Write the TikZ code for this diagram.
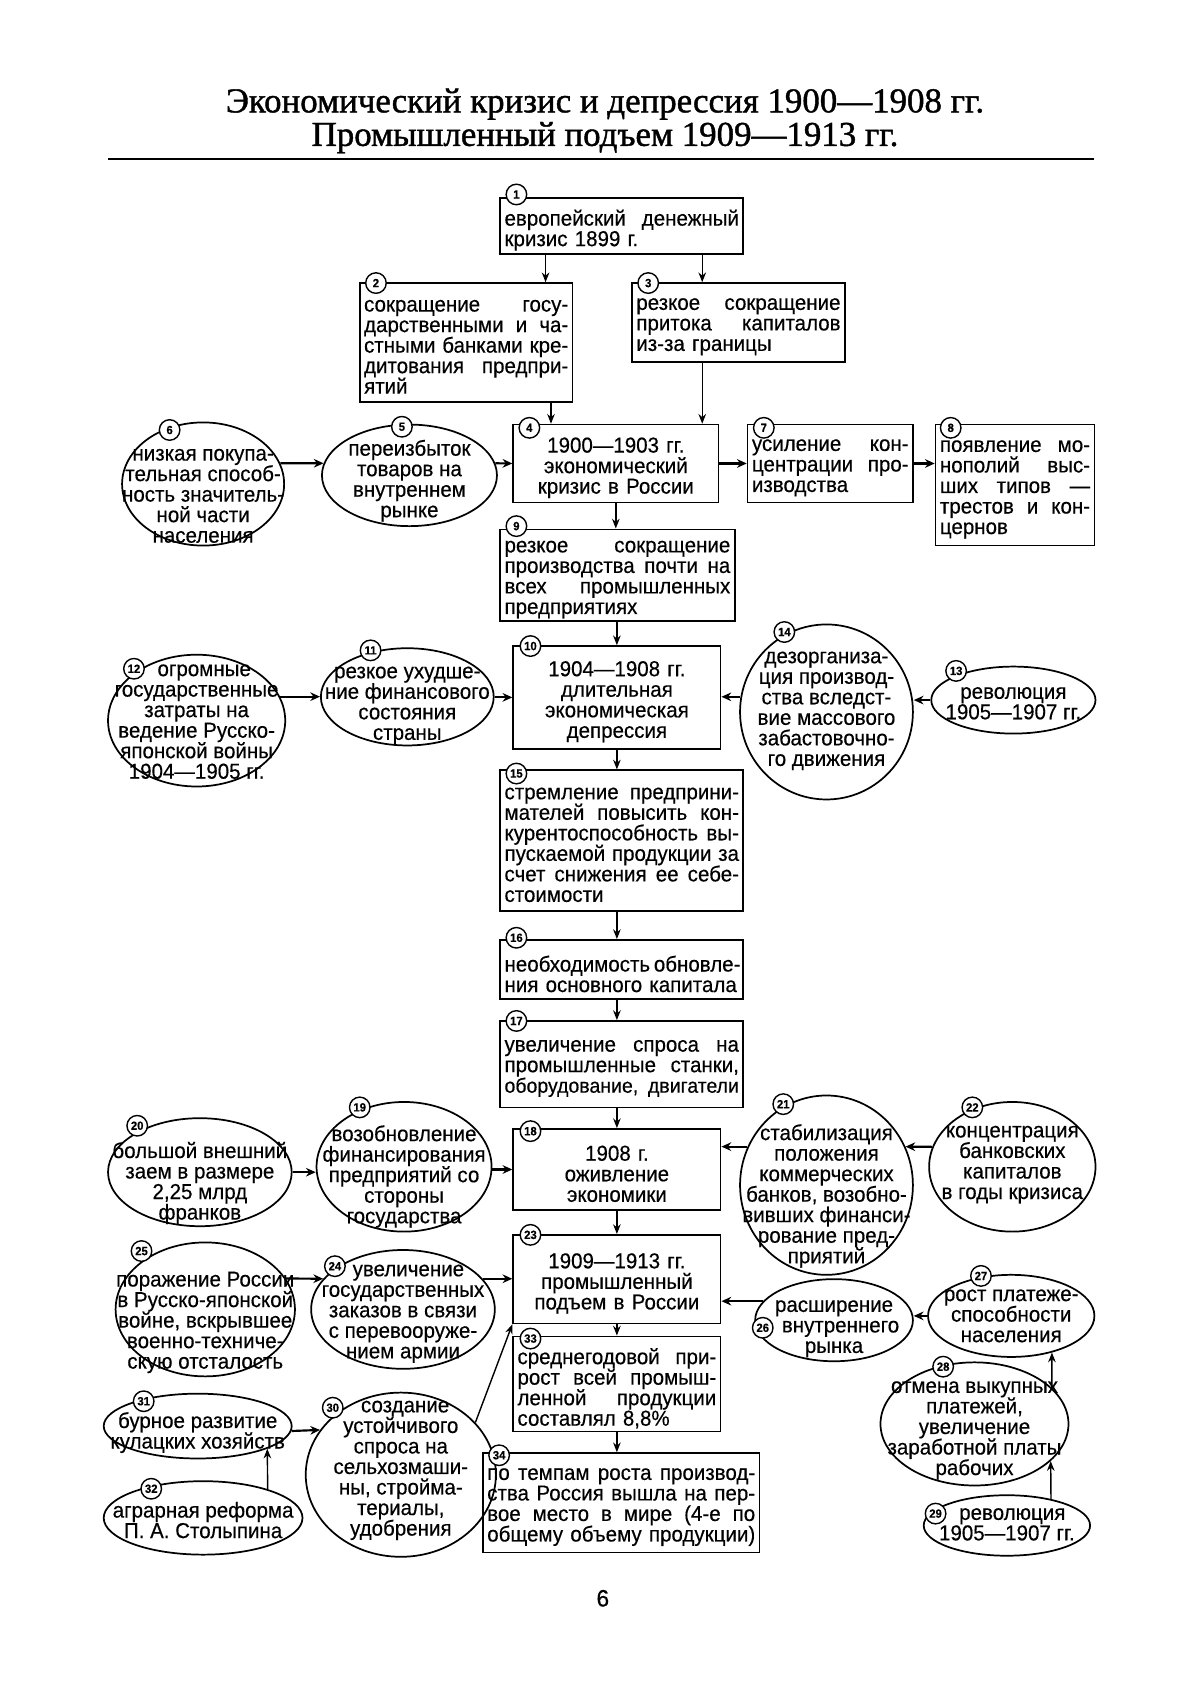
\documentclass[tikz,border=0pt]{standalone}
\usepackage{fontspec}
\setmainfont[FakeStretch=0.95,FakeBold=0.4]{Liberation Sans}
\newfontfamily\titlefont[FakeBold=1.2]{Liberation Serif}
\usetikzlibrary{shapes.geometric,arrows.meta}
\newcommand\jl[1]{\makebox[\linewidth][s]{\spaceskip=0pt\xspaceskip=0pt\relax #1}}
\newcommand\boxfont{\fontsize{20}{19}\selectfont}
\newcommand\mybox[7]{%
 \pgfmathsetmacro\bw{#4-#2}\pgfmathsetmacro\bh{#5-#3}\pgfmathsetmacro\tw{#4-#2-8}%
 \pgfmathsetmacro\cx{(#2+#4)/2}\pgfmathsetmacro\cy{(#3+#5)/2}%
 \node[box,minimum width=\bw pt,minimum height=\bh pt] (#1) at (\cx,\cy) {};
 \pgfmathsetmacro\cy{(#3+#5)/2+4}%
 \node[btext,align=#6,text width=\tw pt] (#1t) at (\cx,\cy) {#7};}
\newcommand\myell[7]{%
 \pgfmathsetmacro\ew{2*#4}\pgfmathsetmacro\eh{2*#5}%
 \node[ell,minimum width=\ew pt,minimum height=\eh pt] (#1) at (#2,#3) {};
 \node[etext] (#1t) at (#2,#6) {#7};}
\newcommand\mynum[4]{\node[numc] (#1) at (#2,#3) {#4};}
\begin{document}
\begin{tikzpicture}[x=1pt,y=-1pt,
 box/.style={draw,rectangle,line width=1.6pt,inner sep=0pt},
 btext/.style={inner sep=0pt,font=\boxfont},
 ell/.style={draw,ellipse,line width=1.6pt,inner sep=0pt},
 etext/.style={align=center,font=\boxfont,inner sep=0pt},
 numc/.style={circle,draw,fill=white,line width=1.3pt,minimum size=19pt,inner sep=0pt,font=\fontsize{11}{11}\selectfont\bfseries},
 arr/.style={-{Stealth[length=9pt,width=7pt]},line width=1.3pt},
 harr/.style={-{Stealth[length=9pt,width=8pt]},line width=2pt}]
\useasboundingbox (0,0) rectangle (1110.7,1568);
% title
\node[anchor=base,font=\titlefont\fontsize{32.3}{33}\selectfont] (title1) at (560,104) {Экономический кризис и депрессия 1900—1908 гг.};
\node[anchor=base,font=\titlefont\fontsize{32.3}{33}\selectfont] (title2) at (560,135) {Промышленный подъем 1909—1913 гг.};
\draw[line width=2pt] (100,147) -- (1013,147);
% boxes
\mybox{b1}{463}{183}{688}{235}{left}{\jl{европейский денежный}\\кризис 1899 г.}
\mybox{b2}{333}{262}{530}{372}{left}{\jl{сокращение госу-}\\\jl{дарственными и ча-}\\\jl{стными банками кре-}\\\jl{дитования предпри-}\\ятий}
\mybox{b3}{585}{262}{782}{335}{left}{\jl{резкое сокращение}\\\jl{притока капиталов}\\из-за границы}
\mybox{b4}{475}{393}{665}{465}{center}{1900—1903 гг.\\экономический\\кризис в России}
\mybox{b7}{692}{393}{845}{465}{left}{\jl{усиление кон-}\\\jl{центрации про-}\\изводства}
\mybox{b8}{866}{393}{1013}{505}{left}{\jl{появление мо-}\\\jl{нополий выс-}\\\jl{ших типов —}\\\jl{трестов и кон-}\\цернов}
\mybox{b9}{463}{490}{680}{575}{left}{\jl{резкое сокращение}\\\jl{производства почти на}\\\jl{всех промышленных}\\предприятиях}
\mybox{b10}{475}{598}{667}{693}{center}{1904—1908 гг.\\длительная\\экономическая\\депрессия}
\mybox{b15}{463}{713}{688}{843}{left}{\jl{стремление предприни-}\\\jl{мателей повысить кон-}\\\jl{курентоспособность вы-}\\\jl{пускаемой продукции за}\\\jl{счет снижения ее себе-}\\стоимости}
\mybox{b16}{463}{870}{688}{925}{left}{\jl{необходимость обновле-}\\ния основного капитала}
\mybox{b17}{463}{945}{688}{1025}{left}{\jl{увеличение спроса на}\\\jl{промышленные станки,}\\\jl{\fontsize{19}{19}\selectfont оборудование, двигатели}}
\mybox{b18}{475}{1045}{667}{1120}{center}{1908 г.\\оживление\\экономики}
\mybox{b23}{475}{1143}{667}{1225}{center}{1909—1913 гг.\\промышленный\\подъем в России}
\mybox{b33}{475}{1237}{667}{1325}{left}{\jl{среднегодовой при-}\\\jl{рост всей промыш-}\\\jl{ленной продукции}\\составлял 8,8\%}
\mybox{b34}{447}{1345}{703}{1437}{left}{\jl{по темпам роста производ-}\\\jl{ства Россия вышла на пер-}\\\jl{вое место в мире (4-е по}\\\jl{общему объему продукции)}}
% ellipses
\myell{e6}{188}{448}{75}{57}{459}{низкая покупа-\\тельная способ-\\ность значитель-\\ной части\\населения}
\myell{e5}{379}{440}{81}{47}{445}{переизбыток\\товаров на\\внутреннем\\рынке}
\myell{e12}{182}{667}{82}{61}{668}{\hspace*{14pt}огромные\\государственные\\затраты на\\ведение Русско-\\японской войны\\1904—1905 гг.}
\myell{e11}{377}{645}{80}{45}{653}{резкое ухудше-\\ние финансового\\состояния\\страны}
\myell{e14}{765}{659}{80}{81}{658}{дезорганиза-\\ция производ-\\ства вследст-\\вие массового\\забастовочно-\\го движения}
\myell{e13}{938}{648}{76}{31}{651}{революция\\1905—1907 гг.}
\myell{e20}{185}{1085}{85}{50}{1095}{большой внешний\\заем в размере\\2,25 млрд\\франков}
\myell{e19}{374}{1080}{81}{60}{1089}{возобновление\\финансирования\\предприятий со\\стороны\\государства}
\myell{e21}{765}{1097}{80}{83}{1107}{стабилизация\\положения\\коммерческих\\банков, возобно-\\вивших финанси-\\рование пред-\\приятий}
\myell{e22}{937}{1080}{77}{60}{1078}{концентрация\\банковских\\капиталов\\в годы кризиса}
\myell{e25}{190}{1212}{83}{62}{1224}{поражение России\\в Русско-японской\\войне, вскрывшее\\военно-техниче-\\скую отсталость}
\myell{e24}{373}{1212}{85}{55}{1216}{\hspace*{10pt}увеличение\\государственных\\заказов в связи\\с перевооруже-\\нием армии}
\myell{e26}{772}{1222}{73}{38}{1230}{расширение\\\hspace*{12pt}внутреннего\\рынка}
\myell{e27}{936}{1218}{77}{38}{1218}{рост платеже-\\способности\\населения}
\myell{e28}{902}{1318}{87}{57}{1324}{отмена выкупных\\платежей,\\увеличение\\заработной платы\\рабочих}
\myell{e29}{932}{1412}{77}{28}{1411}{\hspace*{10pt}революция\\1905—1907 гг.}
\myell{e31}{183}{1320}{87}{30}{1326}{бурное развитие\\кулацких хозяйств}
\myell{e32}{188}{1405}{92}{34}{1407}{аграрная реформа\\П. А. Столыпина}
\myell{e30}{371}{1365}{88}{76}{1361}{\hspace*{8pt}создание\\устойчивого\\спроса на\\сельхозмаши-\\ны, стройма-\\териалы,\\удобрения}
% connectors
\draw[arr] ([xshift=-70.5pt]b1.south) -- ([xshift=73.5pt]b2.north);
\draw[arr] ([xshift=74.5pt]b1.south) -- ([xshift=-33.5pt]b3.north);
\draw[arr] ([xshift=78.5pt]b2.south) -- ([xshift=-60pt]b4.north);
\draw[arr] ([xshift=-33.5pt]b3.south) -- ([xshift=80pt]b4.north);
\draw[harr] (e6.15) -- (e5.172);
\draw[harr] (e5.8) -- (b4.west);
\draw[harr] (b4.east) -- (b7.west);
\draw[harr] (b7.east) -- (b7.east -| b8.west);
\draw[arr] (b4.south) -- (b4.south |- b9.north);
\draw[arr] (b9.south -| b10.north) -- (b10.north);
\draw[harr] (e12.16) -- (e12.16 -| e11.west);
\draw[harr] (e11.east |- b10.west) -- (b10.west);
\draw[harr] (e14.170) -- (e14.170 -| b10.east);
\draw[harr] (e13.west) -- (e13.west -| e14.east);
\draw[arr] (b10.south) -- (b10.south |- b15.north);
\draw[arr] (b15.south -| b10.south) -- (b16.north -| b10.south);
\draw[arr] (b16.south -| b10.south) -- (b17.north -| b10.south);
\draw[arr] (b17.south -| b10.south) -- (b18.north);
\draw[harr] (e20.east) -- (e20.east -| e19.west);
\draw[harr] (e19.east |- b18.west) -- (b18.west);
\draw[harr] (e21.154) -- (e21.154 -| b18.east);
\draw[harr] (e22.166) -- (e21.26);
\draw[arr] (b18.south) -- (b23.north);
\draw[harr] (e25.21) -- (e24.159);
\draw[harr] (e24.21) -- (e24.21 -| b23.west);
\draw[harr] (e26.165) -- (e26.165 -| b23.east);
\draw[harr] (e27.west) -- (e27.west -| e26.east);
\draw[arr] (e28.25) -- (e27.-42);
\draw[arr] (e29.31) -- (e28.-26);
\draw[arr] (b23.south) -- (b33.north);
\draw[arr] (b33.south) -- (b33.south |- b34.north);
\draw[arr] (e32.24) -- (e31.-18);
\draw[harr] (e31.-3) -- (e30.151);
\draw[arr] (e30.35) -- (b23.south west);
% number circles
\mynum{n1}{478}{180}{1}
\mynum{n2}{348}{262}{2}
\mynum{n3}{600}{262}{3}
\mynum{n4}{490}{396}{4}
\mynum{n5}{372}{395}{5}
\mynum{n6}{157}{398}{6}
\mynum{n7}{707}{396}{7}
\mynum{n8}{880}{396}{8}
\mynum{n9}{478}{487}{9}
\mynum{n10}{491}{598}{10}
\mynum{n11}{343}{602}{11}
\mynum{n12}{124}{619}{12}
\mynum{n13}{885}{621}{13}
\mynum{n14}{726}{585}{14}
\mynum{n15}{478}{716}{15}
\mynum{n16}{478}{868}{16}
\mynum{n17}{478}{945}{17}
\mynum{n18}{491}{1047}{18}
\mynum{n19}{333}{1025}{19}
\mynum{n20}{127}{1042}{20}
\mynum{n21}{725}{1022}{21}
\mynum{n22}{900}{1025}{22}
\mynum{n23}{491}{1143}{23}
\mynum{n24}{310}{1172}{24}
\mynum{n25}{131}{1158}{25}
\mynum{n26}{706}{1229}{26}
\mynum{n27}{908}{1181}{27}
\mynum{n28}{873}{1265}{28}
\mynum{n29}{866}{1401}{29}
\mynum{n30}{308}{1303}{30}
\mynum{n31}{133}{1297}{31}
\mynum{n32}{140}{1378}{32}
\mynum{n33}{491}{1239}{33}
\mynum{n34}{462}{1347}{34}
% page number
\node[anchor=base,font=\fontsize{22}{22}\selectfont] (page) at (558,1487) {6};
\end{tikzpicture}
\end{document}
